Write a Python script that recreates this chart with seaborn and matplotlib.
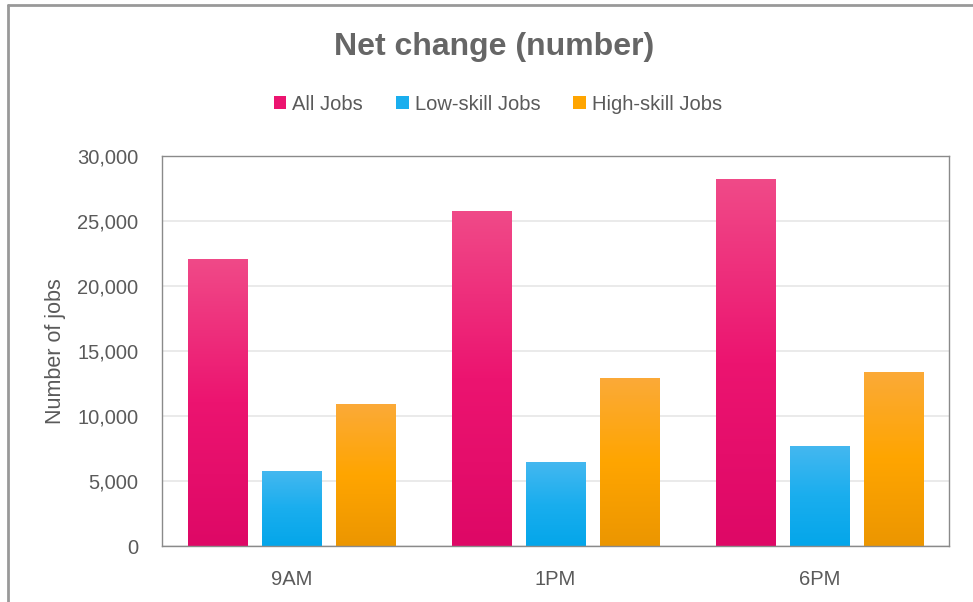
import numpy as np
import pandas as pd
import matplotlib
matplotlib.use("Agg")
import matplotlib.pyplot as plt
from matplotlib.colors import LinearSegmentedColormap
from matplotlib.patches import Patch
import seaborn as sns

times = ["9AM", "1PM", "6PM"]
series = ["All Jobs", "Low-skill Jobs", "High-skill Jobs"]
all_jobs = [22100, 25800, 28200]
low_skill = [5800, 6500, 7700]
high_skill = [10900, 12900, 13400]
yticks = [0, 5000, 10000, 15000, 20000, 25000, 30000]

base_colors = ["#EC1470", "#1AAEEE", "#FFA500"]
top_colors = ["#F04A88", "#45B8F0", "#FBAA38"]
bottom_colors = ["#DE0866", "#04A6EA", "#EC9600"]

df = pd.DataFrame({
    "time": times * 3,
    "series": [s for s in series for _ in times],
    "value": all_jobs + low_skill + high_skill,
})

sns.set_theme(style="white")
plt.rcParams["font.family"] = ["Liberation Sans", "DejaVu Sans"]

fig = plt.figure(figsize=(9.73, 6.02), dpi=100)
ax = fig.add_axes([162 / 973, 56 / 602, 787 / 973, 390 / 602])

sns.barplot(data=df, x="time", y="value", hue="series", order=times,
            hue_order=series, palette=base_colors, width=0.84, gap=0.2,
            ax=ax, legend=False, saturation=1)

# gradient overlay per bar
for i, cont in enumerate(ax.containers):
    cmap = LinearSegmentedColormap.from_list("g%d" % i,
                                             [bottom_colors[i], base_colors[i], top_colors[i]])
    for p in cont.patches:
        x0 = p.get_x()
        w = p.get_width()
        h = p.get_height()
        grad = np.linspace(0, 1, 256).reshape(-1, 1)
        im = ax.imshow(grad, extent=(x0, x0 + w, 0, h), origin="lower",
                       aspect="auto", cmap=cmap, zorder=p.get_zorder() + 0.1)
        im.set_clip_path(p)
        p.set_edgecolor("none")

ax.set_xlim(-0.49, 2.49)
ax.set_ylim(0, 30000)
ax.set_yticks(yticks)
ax.set_yticklabels([f"{v:,}" for v in yticks])
ax.yaxis.grid(True, color="#e6e6e6", linewidth=1.2)
ax.set_axisbelow(True)
ax.tick_params(axis="both", length=0, labelsize=14.5, colors="#5a5a5a")
ax.tick_params(axis="y", pad=17)
ax.tick_params(axis="x", pad=17)
ax.set_xlabel("")
ax.set_ylabel("Number of jobs", fontsize=15.5, color="#5a5a5a", labelpad=8)
for s in ax.spines.values():
    s.set_visible(True)
    s.set_color("#8a8a8a")
    s.set_linewidth(1.0)

fig.text(494 / 973, 1 - 47 / 602, "Net change (number)", ha="center", va="center",
         fontsize=23, fontweight="bold", color="#666666")

handles = [Patch(facecolor=c, edgecolor="none") for c in base_colors]
leg = fig.legend(handles, series, loc="center", bbox_to_anchor=(498 / 973, 1 - 104 / 602),
                 ncol=3, frameon=False, fontsize=14.5, handlelength=0.6, handleheight=0.6,
                 handletextpad=0.3, columnspacing=1.65)
for t in leg.get_texts():
    t.set_color("#5a5a5a")

# outer frame (left and top)
fig.add_artist(plt.Line2D([7.5 / 973, 7.5 / 973], [0, 1 - 4.5 / 602],
                          transform=fig.transFigure, color="#999999", linewidth=2))
fig.add_artist(plt.Line2D([7.5 / 973, 1], [1 - 4.5 / 602, 1 - 4.5 / 602],
                          transform=fig.transFigure, color="#999999", linewidth=2))

fig.savefig("out.png", dpi=100, facecolor="white")
